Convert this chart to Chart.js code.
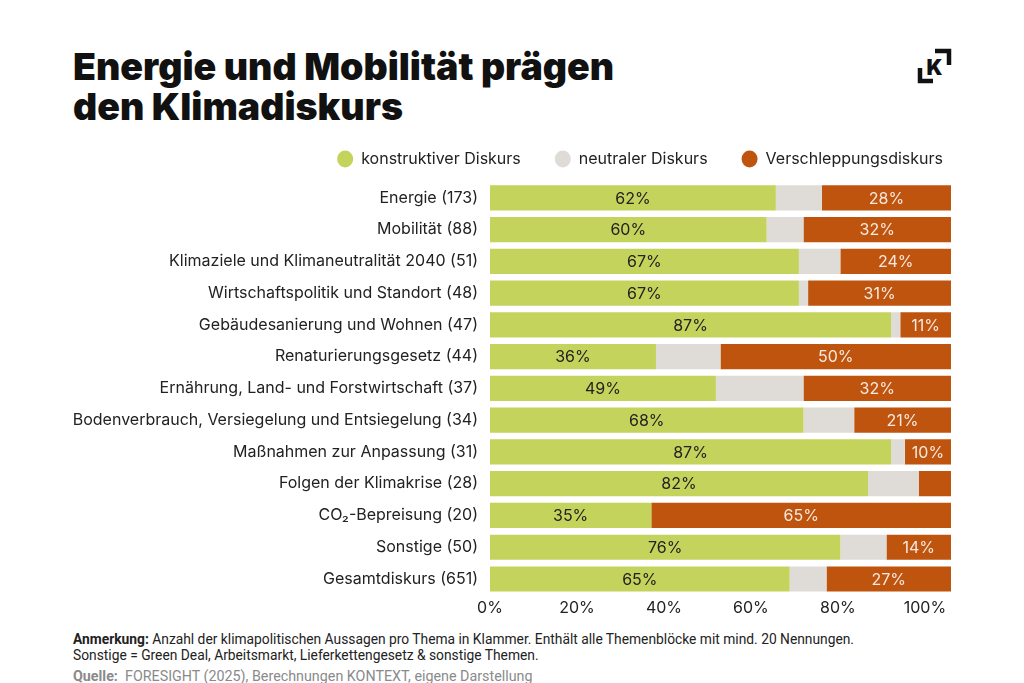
<!DOCTYPE html>
<html lang="de">
<head>
<meta charset="utf-8">
<title>Energie und Mobilität prägen den Klimadiskurs</title>
<script src="https://cdn.jsdelivr.net/npm/chart.js@4"></script>
<style>
    html, body {
        margin: 0;
        padding: 0;
        background: #ffffff;
        width: 1024px;
        height: 683px;
        overflow: hidden;
        font-family: 'Inter', 'Liberation Sans', sans-serif;
        color: #111;
    }
    h1 {
        position: absolute;
        left: 73px;
        top: 47px;
        margin: 0;
        font-size: 37.5px;
        line-height: 40px;
        font-weight: 900;
        letter-spacing: 0;
    }
    .logo {
        position: absolute;
        left: 914px;
        top: 47px;
    }
    .chart-box {
        position: absolute;
        left: 0;
        top: 117px;
        width: 1024px;
        height: 505px;
    }
    .notes {
        position: absolute;
        left: 73px;
        top: 631px;
        font-family: 'Roboto', sans-serif;
        font-size: 13.8px;
        line-height: 16px;
        color: #222;
    }
    .notes b { font-weight: 700; }
    .source {
        position: absolute;
        left: 73px;
        top: 668px;
        font-family: 'Roboto', sans-serif;
        font-size: 14.3px;
        color: #8a8a8a;
    }
    .source b { font-weight: 700; }
</style>
</head>
<body>
<h1>Energie und Mobilität prägen<br>den Klimadiskurs</h1>
<svg class="logo" width="40" height="40" viewBox="0 0 40 40">
    <path d="M21 4 H35 V18" fill="none" stroke="#111" stroke-width="4.5"/>
    <path d="M6 21 V34 H19" fill="none" stroke="#111" stroke-width="4.5"/>
    <text x="20.5" y="28" text-anchor="middle" font-family="Inter, sans-serif" font-weight="900" font-size="21" fill="#111">K</text>
</svg>
<div class="chart-box"><canvas id="chart"></canvas></div>
<div class="notes"><b>Anmerkung:</b> Anzahl der klimapolitischen Aussagen pro Thema in Klammer. Enthält alle Themenblöcke mit mind. 20 Nennungen.<br>Sonstige = Green Deal, Arbeitsmarkt, Lieferkettengesetz &amp; sonstige Themen.</div>
<div class="source"><b>Quelle:</b>&nbsp; FORESIGHT (2025), Berechnungen KONTEXT, eigene Darstellung</div>

<script>
const topics = [
    'Energie (173)',
    'Mobilität (88)',
    'Klimaziele und Klimaneutralität 2040 (51)',
    'Wirtschaftspolitik und Standort (48)',
    'Gebäudesanierung und Wohnen (47)',
    'Renaturierungsgesetz (44)',
    'Ernährung, Land- und Forstwirtschaft (37)',
    'Bodenverbrauch, Versiegelung und Entsiegelung (34)',
    'Maßnahmen zur Anpassung (31)',
    'Folgen der Klimakrise (28)',
    'CO₂-Bepreisung (20)',
    'Sonstige (50)',
    'Gesamtdiskurs (651)',
];
const konstruktiv = [62, 60, 67, 67, 87, 36, 49, 68, 87, 82, 35, 76, 65];
const neutral = [10, 8, 9, 2, 2, 14, 19, 11, 3, 11, 0, 10, 8];
const verschleppung = [28, 32, 24, 31, 11, 50, 32, 21, 10, 7, 65, 14, 27];
const xTicks = [0, 20, 40, 60, 80, 100];
// in the original the tick labels run on a slightly shorter scale than the bars
const tickAxisMax = 106;

const seriesColor = {
    konstruktiv: '#c4d35b',
    neutral: '#dfdcd7',
    verschleppung: '#bf540f',
};

// prints the share inside the green and orange segments (not for tiny ones)
const barLabels = {
    id: 'barLabels',
    afterDatasetsDraw(chart) {
        const ctx = chart.ctx;
        ctx.save();
        ctx.font = '16px Inter, sans-serif';
        ctx.textAlign = 'center';
        ctx.textBaseline = 'middle';
        chart.data.datasets.forEach((ds, i) => {
            if (!ds.showLabel) return;
            chart.getDatasetMeta(i).data.forEach((bar, j) => {
                const value = ds.data[j];
                if (value < 10) return;
                ctx.fillStyle = ds.labelColor;
                ctx.fillText(`${value}%`, (bar.base + bar.x) / 2, bar.y + 1);
            });
        });
        ctx.restore();
    },
};

function init() {
    const ctx = document.getElementById('chart').getContext('2d');
    new Chart(ctx, {
        type: 'bar',
        data: {
            labels: topics,
            datasets: [
                {
                    label: 'konstruktiver Diskurs',
                    data: konstruktiv,
                    backgroundColor: seriesColor.konstruktiv,
                    showLabel: true,
                    labelColor: '#222222',
                },
                {
                    label: 'neutraler Diskurs',
                    data: neutral,
                    backgroundColor: seriesColor.neutral,
                    showLabel: false,
                },
                {
                    label: 'Verschleppungsdiskurs',
                    data: verschleppung,
                    backgroundColor: seriesColor.verschleppung,
                    showLabel: true,
                    labelColor: '#f7e9df',
                },
            ],
        },
        options: {
            indexAxis: 'y',
            responsive: true,
            maintainAspectRatio: false,
            animation: false,
            datasets: {
                bar: {
                    categoryPercentage: 0.79,
                    barPercentage: 1,
                    borderWidth: 0,
                },
            },
            layout: {
                padding: { left: 0, right: 47, top: 0, bottom: 0 },
            },
            scales: {
                x: {
                    stacked: true,
                    min: 0,
                    max: 100,
                    position: 'top',
                    afterFit: (scale) => {
                        scale.height = 5;
                    },
                    grid: { display: false, drawTicks: false },
                    border: { display: false },
                    ticks: { display: false },
                },
                xt: {
                    type: 'linear',
                    axis: 'x',
                    position: 'bottom',
                    min: 0,
                    max: tickAxisMax,
                    afterBuildTicks: (scale) => {
                        scale.ticks = xTicks.map((v) => ({ value: v }));
                    },
                    grid: { display: false, drawTicks: false },
                    border: { display: false },
                    ticks: {
                        color: '#222',
                        padding: 4,
                        font: { family: 'Inter, sans-serif', size: 16 },
                        callback: (value) => `${value}%`,
                    },
                },
                y: {
                    stacked: true,
                    afterFit: (scale) => {
                        scale.width = 490;
                    },
                    grid: { display: false, drawTicks: false },
                    border: { display: false },
                    ticks: {
                        color: '#222',
                        padding: 12,
                        font: { family: 'Inter, sans-serif', size: 16 },
                    },
                },
                yRight: {
                    type: 'category',
                    axis: 'y',
                    position: 'right',
                    afterFit: (scale) => {
                        scale.width = 26;
                    },
                    grid: { display: false, drawTicks: false },
                    border: { display: false },
                    ticks: { display: false },
                },
            },
            plugins: {
                legend: {
                    align: 'end',
                    labels: {
                        usePointStyle: true,
                        pointStyle: 'circle',
                        pointStyleWidth: 16,
                        boxWidth: 16,
                        boxHeight: 12,
                        padding: 34,
                        color: '#222',
                        font: { family: 'Inter, sans-serif', size: 16 },
                    },
                },
                tooltip: { enabled: false },
            },
        },
        plugins: [barLabels],
    });
}

document.addEventListener('DOMContentLoaded', init);
</script>
</body>
</html>
